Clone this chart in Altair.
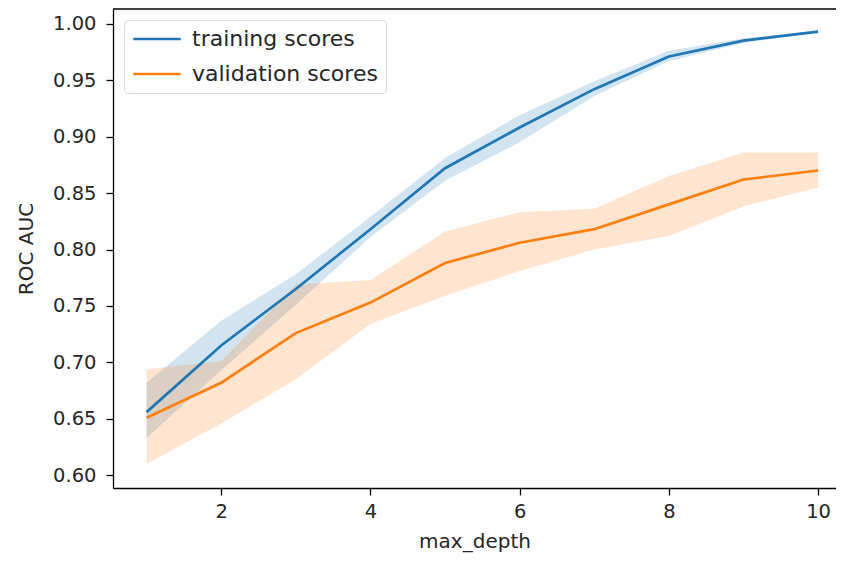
import altair as alt
import pandas as pd

depth = [1, 2, 3, 4, 5, 6, 7, 8, 9, 10]
train_mean = [0.656, 0.715, 0.765, 0.818, 0.872, 0.908, 0.942, 0.971, 0.985, 0.993]
train_lo = [0.633, 0.693, 0.751, 0.811, 0.861, 0.895, 0.936, 0.967, 0.983, 0.992]
train_hi = [0.682, 0.737, 0.778, 0.829, 0.881, 0.919, 0.949, 0.976, 0.987, 0.994]
val_mean = [0.651, 0.682, 0.726, 0.753, 0.788, 0.806, 0.818, 0.840, 0.862, 0.870]
val_lo = [0.610, 0.646, 0.685, 0.734, 0.759, 0.781, 0.800, 0.812, 0.838, 0.855]
val_hi = [0.694, 0.701, 0.769, 0.773, 0.816, 0.833, 0.836, 0.865, 0.886, 0.886]
series = ["training scores", "validation scores"]
x_ticks = [2, 4, 6, 8, 10]
y_ticks = [0.60, 0.65, 0.70, 0.75, 0.80, 0.85, 0.90, 0.95, 1.00]

rows = []
for name, m, lo, hi in [(series[0], train_mean, train_lo, train_hi),
                        (series[1], val_mean, val_lo, val_hi)]:
    for d, a, b, c in zip(depth, m, lo, hi):
        rows.append({"max_depth": d, "series": name, "mean": a, "lo": b, "hi": c})
df = pd.DataFrame(rows)

W, H = 723, 479
FONT = "DejaVu Sans"

xs = alt.Scale(domain=[0.55, 10.24], nice=False, zero=False)
ys = alt.Scale(domain=[0.5888, 1.013], nice=False, zero=False)
cs = alt.Scale(domain=series, range=["#1f77b4", "#ff7f0e"])

legend = alt.Legend(
    title=None, orient="none", legendX=11, legendY=11,
    symbolType="M-2.5,0H2.5", symbolSize=361, symbolStrokeWidth=2.7, symbolOpacity=1,
    symbolOffset=14,
    labelFontSize=22, labelFont=FONT, labelColor="#262626", labelLimit=0,
    labelOffset=24, padding=8, rowPadding=13,
    strokeColor="#d9d9d9", fillColor="white", cornerRadius=4,
)

xax = alt.Axis(values=x_ticks, format="d", title="max_depth", grid=False, tickSize=7,
               labelPadding=7, titlePadding=11)
yax = alt.Axis(values=y_ticks, format=".2f", title="ROC AUC", grid=False,
               tickSize=7, labelPadding=10, titlePadding=16)

base = alt.Chart(df)
band = base.mark_area(opacity=0.2).encode(
    x=alt.X("max_depth:Q", scale=xs, axis=xax),
    y=alt.Y("lo:Q", scale=ys, axis=yax),
    y2="hi:Q",
    color=alt.Color("series:N", scale=cs, legend=legend),
    detail="series:N",
)
line = base.mark_line(strokeWidth=2.7).encode(
    x=alt.X("max_depth:Q", scale=xs),
    y=alt.Y("mean:Q", scale=ys),
    color=alt.Color("series:N", scale=cs, legend=legend),
)
top = alt.Chart(pd.DataFrame({"k": [0]})).mark_rule(color="black", strokeWidth=1.3).encode(
    x=alt.value(0), x2=alt.value(W), y=alt.value(0)
)

chart = alt.layer(band, line, top).properties(
    width=W, height=H,
    autosize=alt.AutoSizeParams(type="none"),
    padding={"left": 105, "top": 1, "right": 0, "bottom": 66},
).configure_view(stroke=None).configure_axis(
    labelFont=FONT, titleFont=FONT, labelFontSize=19.5, titleFontSize=20,
    labelColor="#262626", titleColor="#262626", titleFontWeight="normal",
    domainColor="black", domainWidth=1.3, tickColor="black", tickWidth=1.3,
)

chart.save("out.html", embed_options={"renderer": "svg", "actions": False})
